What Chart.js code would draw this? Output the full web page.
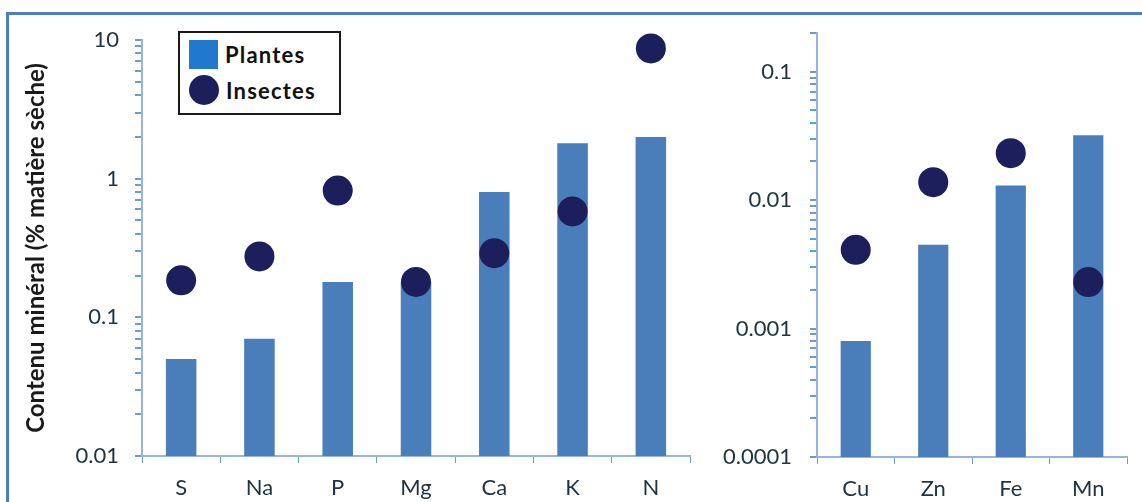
<!DOCTYPE html>
<html>
<head>
<meta charset="utf-8">
<script src="https://cdn.jsdelivr.net/npm/chart.js@4"></script>
<style>
  html, body { margin: 0; padding: 0; background: #fff; }
  #wrap { position: relative; width: 1142px; height: 502px; overflow: hidden; }
  #frame {
    position: absolute; left: 6px; top: 12px; width: 1200px; height: 600px;
    border-top: 3px solid #4a7fc4; border-left: 3px solid #4a7fc4;
  }
  canvas { position: absolute; top: 0; }
  #left { left: 0; }
  #right { left: 705px; }
  #legend {
    position: absolute; left: 178px; top: 31px; width: 159px; height: 80px;
    border: 2px solid #1a1a1a; background: #fff;
    font-family: Lato, "Open Sans", sans-serif; font-weight: bold; font-size: 22px;
    letter-spacing: 1.2px; color: #111;
  }
  .item { position: absolute; left: 9px; height: 30px; display: flex; align-items: center; }
  .swatch { width: 29px; height: 29px; margin-right: 7px; }
  .dot { border-radius: 50%; width: 30px; height: 30px; }
</style>
</head>
<body>
<div id="wrap">
  <div id="frame"></div>
  <canvas id="left" width="705" height="502"></canvas>
  <canvas id="right" width="437" height="502"></canvas>
  <div id="legend"></div>
</div>
<script>
// macro-elements
const majorCats = ["S", "Na", "P", "Mg", "Ca", "K", "N"];
const majorPlantes = [0.05, 0.07, 0.18, 0.18, 0.8, 1.8, 2.0];
const majorInsectes = [0.185, 0.275, 0.82, 0.18, 0.29, 0.58, 8.7];
const majorTicks = ["0.01", "0.1", "1", "10"];

// trace elements
const traceCats = ["Cu", "Zn", "Fe", "Mn"];
const tracePlantes = [0.0008, 0.0045, 0.013, 0.032];
const traceInsectes = [0.0041, 0.0138, 0.0232, 0.0023];
const traceTicks = ["0.0001", "0.001", "0.01", "0.1"];

const seriesNames = ["Plantes", "Insectes"];
const barColor = "#4a7ebb";
const dotColor = "#1c1f5c";
const swatchColor = "#2179cf";
const axisColor = "#93b6da";
const tickMarkColor = "#6f9bcc";
const textColor = "#1f3340";
const FONT = "Lato, 'Open Sans', sans-serif";

function isDecade(v) {
  const l = Math.log10(v);
  return Math.abs(l - Math.round(l)) < 1e-6;
}

// 1..9 x 10^n between min and max, so the minor marks show on the log axis
function logTicks(min, max) {
  const out = [];
  for (let e = Math.round(Math.log10(min)); Math.pow(10, e) <= max * 1.0001; e++) {
    for (let s = 1; s <= 9; s++) {
      const v = parseFloat((s * Math.pow(10, e)).toPrecision(6));
      if (v >= min && v <= max * 1.0001) out.push({ value: v, major: s === 1 });
    }
  }
  return out;
}

function makeChart(id, cats, plantes, insectes, tickLabels, cfg) {
  return new Chart(document.getElementById(id), {
    type: "bar",
    data: {
      labels: cats,
      datasets: [
        {
          type: "line",
          label: seriesNames[1],
          data: insectes,
          showLine: false,
          pointRadius: 15,
          pointHoverRadius: 15,
          pointBackgroundColor: dotColor,
          pointBorderWidth: 0,
          clip: false,
          order: 0
        },
        {
          label: seriesNames[0],
          data: plantes,
          backgroundColor: barColor,
          barPercentage: 0.39,
          categoryPercentage: 1,
          order: 1
        }
      ]
    },
    options: {
      responsive: false,
      animation: false,
      layout: { padding: { left: 0, top: cfg.top, right: cfg.right, bottom: 0 } },
      plugins: { legend: { display: false }, tooltip: { enabled: false } },
      scales: {
        x: {
          grid: { drawOnChartArea: false, color: tickMarkColor, tickLength: 7 },
          border: { color: axisColor, width: 2 },
          ticks: { color: textColor, font: { family: FONT, size: 22 }, padding: 12 },
          afterFit: s => { s.height = cfg.xHeight; }
        },
        y: {
          type: "logarithmic",
          min: cfg.min,
          max: cfg.max,
          grid: {
            drawOnChartArea: false,
            color: tickMarkColor,
            lineWidth: 2,
            tickLength: 7
          },
          border: { color: axisColor, width: 2 },
          ticks: {
            color: textColor,
            font: { family: FONT, size: 22 },
            padding: cfg.labelPad,
            autoSkip: false,
            callback: v => {
              if (!isDecade(v)) return "";
              const idx = Math.round(Math.log10(v) - Math.log10(cfg.min));
              return tickLabels[idx] ?? "";
            }
          },
          afterBuildTicks: s => { s.ticks = logTicks(cfg.min, cfg.max); },
          title: cfg.title ? {
            display: true,
            text: cfg.title,
            color: "#1a1a1a",
            font: { family: FONT, size: 24, weight: "bold" },
            padding: { top: 22, bottom: 0 }
          } : { display: false },
          afterFit: s => { s.width = cfg.yWidth; }
        }
      }
    }
  });
}

makeChart("left", majorCats, majorPlantes, majorInsectes, majorTicks, {
  min: 0.01, max: 10, top: 40, right: 11, xHeight: 46, yWidth: 142, labelPad: 16,
  title: "Contenu minéral (% matière sèche)"
});
makeChart("right", traceCats, tracePlantes, traceInsectes, traceTicks, {
  min: 0.0001, max: 0.2, top: 33, right: 10, xHeight: 45, yWidth: 112, labelPad: 18
});

// legend built from the series names
const legend = document.getElementById("legend");
seriesNames.forEach((name, i) => {
  const item = document.createElement("div");
  item.className = "item";
  item.style.top = (i === 0 ? 6 : 42) + "px";
  const sw = document.createElement("div");
  sw.className = i === 0 ? "swatch" : "swatch dot";
  sw.style.background = i === 0 ? swatchColor : dotColor;
  const label = document.createElement("span");
  label.textContent = name;
  item.appendChild(sw);
  item.appendChild(label);
  legend.appendChild(item);
});
</script>
</body>
</html>
